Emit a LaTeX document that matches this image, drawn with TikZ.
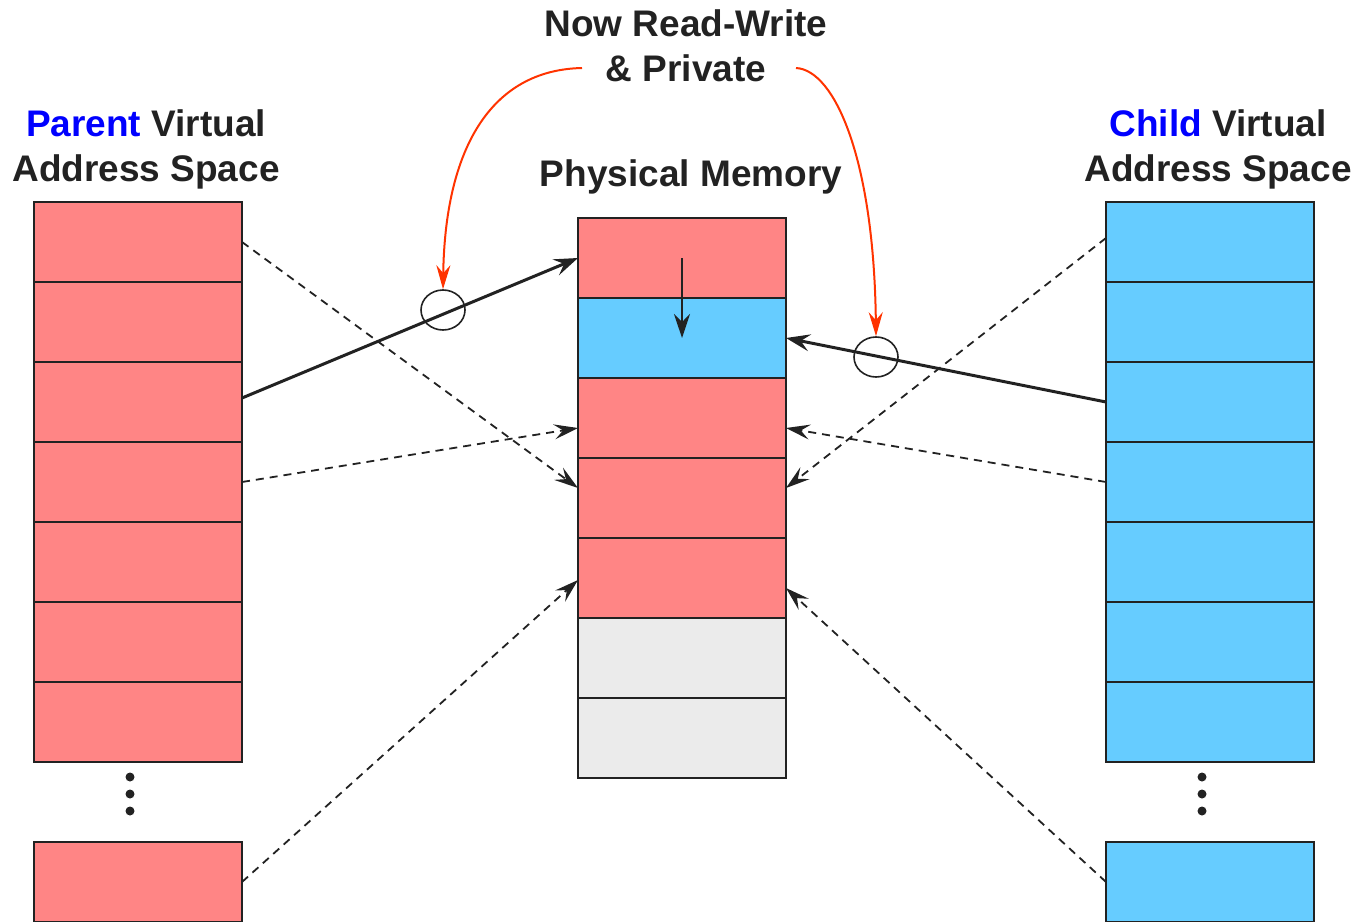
\documentclass[tikz,border=0pt]{standalone}
\usepackage{fontspec}
\setmainfont{Liberation Sans}
\usetikzlibrary{arrows.meta,shapes.geometric,calc,positioning}
\definecolor{pagered}{RGB}{255,133,133}
\definecolor{pageblue}{RGB}{102,204,255}
\definecolor{pagegray}{RGB}{235,235,235}
\definecolor{inkdark}{RGB}{34,34,34}
\definecolor{notered}{RGB}{255,51,0}
\definecolor{labelblue}{RGB}{0,0,255}

\begin{document}
\begin{tikzpicture}[x=0.5pt, y=-0.5pt,
    page/.style={draw=inkdark, line width=1pt, minimum width=104pt, minimum height=40pt, inner sep=0pt, outer sep=0pt},
    heading/.style={align=center, inner sep=0pt, text=inkdark, font=\fontsize{18.5pt}{22.5pt}\selectfont\bfseries},
    maplink/.style={draw=inkdark, line width=1.5pt, -{Stealth[length=12pt, width=8.5pt, inset=4.5pt]}},
    sharelink/.style={draw=inkdark, line width=0.9pt, dash pattern=on 4pt off 3pt, -{Stealth[length=12pt, width=7.5pt, inset=4.5pt]}},
    shiftlink/.style={draw=inkdark, line width=1pt, -{Stealth[length=12pt, width=8pt, inset=4pt]}},
    notearrow/.style={draw=notered, line width=1pt, -{Stealth[length=12pt, width=7pt, inset=4pt]}},
    cowmark/.style={draw=inkdark, ellipse, line width=0.8pt, minimum width=22pt, minimum height=20pt, inner sep=0pt}]
    \useasboundingbox (0,0) rectangle (1358,921);

    \foreach \i in {1,...,7} {
        \node[page, fill=pagered] at (138, 162+80*\i) (p\i) {};
        \node[page, fill=pageblue] at (1210, 162+80*\i) (c\i) {};
    }
    \node[page, fill=pagered] at (138, 882) (pb) {};
    \node[page, fill=pageblue] at (1210, 882) (cb) {};
    \foreach \i/\col in {1/pagered, 2/pageblue, 3/pagered, 4/pagered, 5/pagered, 6/pagegray, 7/pagegray}
        \node[page, fill=\col] at (682, 178+80*\i) (m\i) {};

    \foreach \y in {777, 794, 811} {
        \fill[inkdark] (130, \y) circle (4.5);
        \fill[inkdark] (1202, \y) circle (4.5);
    }

    \node[heading] at (146, 149) (parentlabel) {\textcolor{labelblue}{Parent} Virtual\\Address Space};
    \node[heading] at (1218, 149) (childlabel) {\textcolor{labelblue}{Child} Virtual\\Address Space};
    \node[heading, anchor=base] at (691, 186) (physlabel) {Physical Memory};
    \node[heading] at (686, 46) (rwnote) {Now Read-Write\\\& Private};

    \node[cowmark] at (443, 310) (cowL) {};
    \node[cowmark] at (876, 357) (cowR) {};

    \draw[sharelink] (p1.east) -- ($(m4.west)+(0,-10)$);
    \draw[sharelink] (p4.east) -- ($(m3.west)+(0,10)$);
    \draw[sharelink] (pb.east) -- ($(m5.west)+(0,2)$);
    \draw[sharelink] ($(c1.west)+(0,-4)$) -- ($(m4.east)+(0,-10)$);
    \draw[sharelink] (c4.west) -- ($(m3.east)+(0,10)$);
    \draw[sharelink] (cb.west) -- ($(m5.east)+(0,10)$);

    \draw[maplink] ($(p3.east)+(0,-4)$) -- (m1.west);
    \draw[maplink] (c3.west) -- (m2.east);
    \draw[shiftlink] (m1.center) -- (m2.center);

    \coordinate (noteL) at (582, 68);
    \coordinate (noteR) at (796, 68);
    \draw[notearrow] (noteL) .. controls (490, 70) and (445, 150) .. (cowL.north);
    \draw[notearrow] (noteR) .. controls (835, 70) and (874, 160) .. (cowR.north);
\end{tikzpicture}
\end{document}
